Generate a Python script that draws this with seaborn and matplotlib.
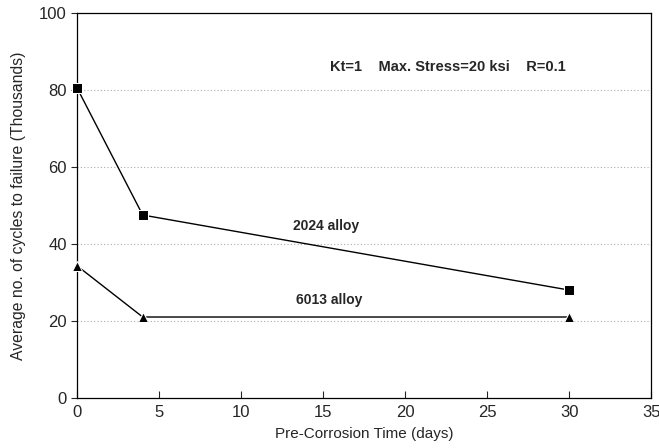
# Fatigue life vs pre-corrosion time

import pandas as pd
from matplotlib import pyplot as plt
import seaborn as sns

sns.set_style('white')
plt.rcParams['font.family'] = ['Liberation Sans', 'DejaVu Sans']

# Data
days = [0, 4, 30]
alloy_2024 = [80.5, 47.5, 28.0]
alloy_6013 = [34.3, 21.0, 21.0]

df = pd.DataFrame({
    'days': days * 2,
    'cycles': alloy_2024 + alloy_6013,
    'alloy': ['2024'] * 3 + ['6013'] * 3,
})

# Plot
fig, ax = plt.subplots(figsize=(6.59, 4.48), dpi=100)
sns.lineplot(x='days', y='cycles', data=df, hue='alloy', style='alloy',
             markers={'2024': 's', '6013': '^'}, dashes=False,
             palette={'2024': 'black', '6013': 'black'},
             markersize=7.5, linewidth=1, legend=False, ax=ax, clip_on=False,
             zorder=3)

ax.set_xlim(0, 35)
ax.set_ylim(0, 100)
ax.set_xticks(range(0, 36, 5))
ax.set_yticks(range(0, 101, 20))
ax.tick_params(axis='x', direction='in', length=5, labelsize=12, pad=5)
ax.tick_params(axis='y', direction='out', length=4, labelsize=12, left=True)
ax.tick_params(axis='x', bottom=True)

for y in [20, 40, 60, 80]:
    ax.axhline(y, color='#aaaaaa', linestyle=(0, (1, 2)), linewidth=0.8, zorder=0)

for s in ax.spines.values():
    s.set_color('black')
    s.set_linewidth(0.9)

ax.set_xlabel('Pre-Corrosion Time (days)', fontsize=11, labelpad=5)
ax.set_ylabel('Average no. of cycles to failure (Thousands)', fontsize=11.3, labelpad=9)

ax.text(15.4, 86, 'Kt=1    Max. Stress=20 ksi    R=0.1', fontsize=10.5,
        fontweight='bold', va='center')
ax.text(15.2, 44.7, '2024 alloy', fontsize=10, fontweight='bold', ha='center', va='center')
ax.text(15.4, 25.5, '6013 alloy', fontsize=10, fontweight='bold', ha='center', va='center')

plt.subplots_adjust(left=0.117, right=0.988, top=0.971, bottom=0.112)
plt.savefig('out.png')
